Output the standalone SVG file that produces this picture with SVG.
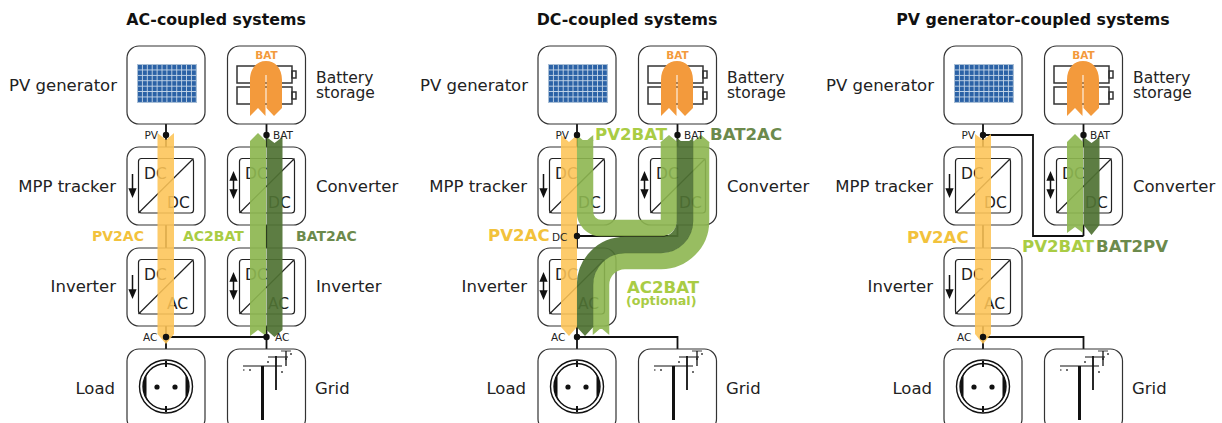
<svg xmlns="http://www.w3.org/2000/svg" width="1222" height="423" viewBox="0 0 1222 423">
<style>
text{font-family:"DejaVu Sans",Verdana,sans-serif;fill:#222}
.title{font-size:15.800px;font-weight:700;fill:#111;text-anchor:middle}
.lab{font-size:16.500px}
.sto{font-size:15.500px}
.e{text-anchor:end}
.conv{font-size:15.500px}
.port{font-size:10.500px}
.box{fill:#fff;stroke:#333;stroke-width:1.2}
.in{fill:none;stroke:#222;stroke-width:1.2}
.wire{fill:none;stroke:#111;stroke-width:1.8}
.y{fill:#fdc456;opacity:.88}
.l{fill:#8db650;opacity:.92}
.d{fill:#4f7233;opacity:.92}
.sl{fill:none;stroke:#8db650;stroke-width:16.5}
.sd{fill:none;stroke:#4f7233;stroke-width:16.5}
.t1{font-size:14px;font-weight:700}
.t2{font-size:16.600px;font-weight:700}
.cy{fill:#f2c23c}.cl{fill:#a9cc44}.cd{fill:#6c8a4c}
.oo{fill:#f39a3c}
.bl{font-size:10.500px;font-weight:700;text-anchor:middle;fill:#f39a3c}
.bt{fill:none;stroke:#333;stroke-width:1.5}
</style>
<defs>
<pattern id="cells" width="4.9" height="5.4" patternUnits="userSpaceOnUse" x="138" y="65">
<rect width="4.9" height="5.4" fill="#c5d6e8"/><rect width="4" height="4.5" fill="#2b62a6"/>
</pattern>
<g id="pv"><rect x="137" y="64" width="60" height="39" fill="#a9bfd6"/><rect x="138" y="65" width="58" height="37" fill="url(#cells)"/></g>
<g id="bat">
<rect class="bt" x="237" y="66" width="55" height="17"/><rect class="bt" x="292" y="71" width="4" height="7"/>
<rect class="bt" x="237" y="87" width="55" height="17"/><rect class="bt" x="292" y="92" width="4" height="7"/>
<path class="oo" d="M250 116V80C250 68 257 61 266 61C275 61 282 68 282 80V108L274 116L266.500 108V75H265.500V116L258 108Z"/>
</g>
<g id="conv"><rect class="in" x="138.500" y="158.500" width="55" height="54.500" rx="3"/><path class="in" d="M138.500 213L193.500 158.500"/></g>
<path id="down" d="M132.500 174V191M129.500 189L132.500 196L135.500 189Z" fill="#111" stroke="#111" stroke-width="1.500"/>
<path id="both" d="M132.500 178V192M129.500 180L132.500 173L135.500 180ZM129.500 190L132.500 197L135.500 190Z" fill="#111" stroke="#111" stroke-width="1.500"/>
<g id="socket">
<circle cx="166" cy="386.500" r="26.500" fill="none" stroke="#111" stroke-width="1.400"/>
<circle cx="166" cy="386.500" r="23" fill="none" stroke="#111" stroke-width="1.400"/>
<path d="M150 370A23 23 0 0 0 150 403L146.500 397V376Z M182 370A23 23 0 0 1 182 403L185.500 397V376Z" fill="#111"/>
<path d="M166 361V367M166 406V412" stroke="#111" stroke-width="2"/>
<circle cx="157" cy="387" r="2.600" fill="#111"/><circle cx="175" cy="387" r="2.600" fill="#111"/>
</g>
<g id="grid" stroke="#111" fill="none">
<path d="M262.500 366V420" stroke-width="3"/><path d="M243 366H282" stroke-width="1.200"/>
<path d="M276 356V390" stroke-width="1.800"/><path d="M268 357H288" stroke-width="1"/>
<path d="M286 351V366" stroke-width="1.300"/><path d="M281 351H291" stroke-width=".8"/>
<path d="M243 370h1.500M250 369v2M282 371v2M268 361v2M286 358v2M291 353v2" stroke-width="1.200"/>
</g>
<circle id="dot" r="3.200" fill="#111"/>
</defs>

<g id="panel-ac">
<text class="title" x="216" y="25">AC-coupled systems</text>
<g id="connectors-ac">
<path class="wire" d="M166 124V147M266.500 124V147M166 224V248M266.500 224V248M166 326V349M266.500 326V349M166 337H266.500"/>
</g>
<g id="ac-pv"><rect class="box" x="127" y="46" width="78" height="78" rx="12"/><use href="#pv"/><text class="lab e" x="117" y="91">PV generator</text></g>
<g id="ac-bat"><rect class="box" x="227.500" y="46" width="78" height="78" rx="12"/><use href="#bat"/><text class="bl" x="266.500" y="59">BAT</text><text class="sto" x="316" y="83">Battery</text><text class="sto" x="316" y="98">storage</text></g>
<g id="ac-mpp"><rect class="box" x="127" y="147" width="78" height="78" rx="12"/><use href="#conv"/><use href="#down"/><text class="conv" x="144" y="179">DC</text><text class="conv" x="167" y="208">DC</text><text class="lab e" x="116" y="192">MPP tracker</text></g>
<g id="ac-conv"><rect class="box" x="227.500" y="147" width="78" height="78" rx="12"/><use href="#conv" x="101"/><use href="#both" x="101"/><text class="conv" x="245" y="179">DC</text><text class="conv" x="268" y="208">DC</text><text class="lab" x="316" y="192">Converter</text></g>
<g id="ac-inv1"><rect class="box" x="127" y="248" width="78" height="78" rx="12"/><use href="#conv" y="101"/><use href="#down" y="101"/><text class="conv" x="144" y="280">DC</text><text class="conv" x="167" y="309">AC</text><text class="lab e" x="116" y="292">Inverter</text></g>
<g id="ac-inv2"><rect class="box" x="227.500" y="248" width="78" height="78" rx="12"/><use href="#conv" x="101" y="101"/><use href="#both" x="101" y="101"/><text class="conv" x="245" y="280">DC</text><text class="conv" x="268" y="309">AC</text><text class="lab" x="316" y="292">Inverter</text></g>
<g id="ac-load"><rect class="box" x="127" y="349" width="78" height="82" rx="12"/><use href="#socket"/><text class="lab e" x="115" y="394">Load</text></g>
<g id="ac-grid"><rect class="box" x="227.500" y="349" width="78" height="82" rx="12"/><use href="#grid"/><text class="lab" x="315" y="394">Grid</text></g>
<g id="flows-ac">
<path class="y" d="M157.500 133L166 140L174 133V334L166 344L157.500 334Z"/>
<path class="l" d="M250 336V141L258 133L266 141V336L258 330Z"/>
<path class="d" d="M266.500 137L274.500 143L282.500 137V330L274.500 337L266.500 330Z"/>
</g>
<g id="dots-ac"><use href="#dot" x="166" y="135"/><use href="#dot" x="266.500" y="135"/><use href="#dot" x="166" y="337"/><use href="#dot" x="266.500" y="337"/>
<text class="port" x="144.500" y="139">PV</text><text class="port" x="273" y="139">BAT</text><text class="port" x="143" y="341">AC</text><text class="port" x="275" y="341">AC</text></g>
<text class="t1 cy" x="92" y="241">PV2AC</text><text class="t1 cl" x="183" y="241">AC2BAT</text><text class="t1 cd" x="296" y="241">BAT2AC</text>
</g>

<g id="panel-dc" transform="translate(411 0)">
<text class="title" x="216" y="25">DC-coupled systems</text>
<g id="connectors-dc">
<path class="wire" d="M166 124V349M266.500 124V236H166M166 337H266.500V349"/>
</g>
<g id="dc-pv"><rect class="box" x="127" y="46" width="78" height="78" rx="12"/><use href="#pv"/><text class="lab e" x="117" y="91">PV generator</text></g>
<g id="dc-bat"><rect class="box" x="227.500" y="46" width="78" height="78" rx="12"/><use href="#bat"/><text class="bl" x="266.500" y="59">BAT</text><text class="sto" x="316" y="83">Battery</text><text class="sto" x="316" y="98">storage</text></g>
<g id="dc-mpp"><rect class="box" x="127" y="147" width="78" height="78" rx="12"/><use href="#conv"/><use href="#down"/><text class="conv" x="144" y="179">DC</text><text class="conv" x="167" y="208">DC</text><text class="lab e" x="116" y="192">MPP tracker</text></g>
<g id="dc-conv"><rect class="box" x="227.500" y="147" width="78" height="78" rx="12"/><use href="#conv" x="101"/><use href="#both" x="101"/><text class="conv" x="245" y="179">DC</text><text class="conv" x="268" y="208">DC</text><text class="lab" x="316" y="192">Converter</text></g>
<g id="dc-inv"><rect class="box" x="127" y="248" width="78" height="78" rx="12"/><use href="#conv" y="101"/><use href="#both" y="101"/><text class="conv" x="144" y="280">DC</text><text class="conv" x="167" y="309">AC</text><text class="lab e" x="116" y="292">Inverter</text></g>
<g id="dc-load"><rect class="box" x="127" y="349" width="78" height="82" rx="12"/><use href="#socket"/><text class="lab e" x="115" y="394">Load</text></g>
<g id="dc-grid"><rect class="box" x="227.500" y="349" width="78" height="82" rx="12"/><use href="#grid"/><text class="lab" x="315" y="394">Grid</text></g>
<g id="flows-dc">
<g opacity=".9"><path class="sl" d="M174 140V212A16 16 0 0 0 190 228H250A8 8 0 0 0 258 220V142"/><path style="fill:#8db650" d="M165.750 135L174 142L182.250 135V141H165.750ZM249.750 142L258 135L266.250 142V143H249.750Z"/></g>
<g opacity=".9"><path class="sl" d="M190 329V285A24 24 0 0 1 214 261H250A40 40 0 0 0 290 221V142"/><path style="fill:#8db650" d="M181.750 335L190 328L198.250 335V329H181.750ZM281.750 142L290 135L298.250 142V143H281.750Z"/></g>
<g opacity=".92"><path class="sd" d="M274 141V221A24 24 0 0 1 250 245H214A40 40 0 0 0 174 285V327"/><path style="fill:#4f7233" d="M265.750 138L274 144L282.250 138V142H265.750ZM165.750 327L174 336L182.250 327V326H165.750Z"/></g>
<path class="y" d="M150 135L158 142L166 135V327L158 336L150 327Z"/>
</g>
<g id="dots-dc"><use href="#dot" x="166" y="135"/><use href="#dot" x="266.500" y="135"/><use href="#dot" x="166" y="236"/><use href="#dot" x="166" y="337"/>
<text class="port" x="144.500" y="139">PV</text><text class="port" x="273" y="139">BAT</text><text class="port" x="141" y="241">DC</text><text class="port" x="140" y="341">AC</text></g>
<text class="t2 cy" x="77" y="241">PV2AC</text><text class="t2 cl" x="184" y="140">PV2BAT</text><text class="t2 cd" x="299" y="140">BAT2AC</text>
<text class="t2 cl" x="216" y="292.500">AC2BAT</text><text class="cl" x="215" y="305" font-size="12.700" font-weight="700">(optional)</text>
</g>

<g id="panel-pv" transform="translate(817 0)">
<text class="title" x="216" y="25">PV generator-coupled systems</text>
<g id="connectors-pv">
<path class="wire" d="M166 124V147M166 135H216V236H266.500M266.500 124V236M166 224V248M166 326V349M166 337H266.500V349"/>
</g>
<g id="pv-pv"><rect class="box" x="127" y="46" width="78" height="78" rx="12"/><use href="#pv"/><text class="lab e" x="117" y="91">PV generator</text></g>
<g id="pv-bat"><rect class="box" x="227.500" y="46" width="78" height="78" rx="12"/><use href="#bat"/><text class="bl" x="266.500" y="59">BAT</text><text class="sto" x="316" y="83">Battery</text><text class="sto" x="316" y="98">storage</text></g>
<g id="pv-mpp"><rect class="box" x="127" y="147" width="78" height="78" rx="12"/><use href="#conv"/><use href="#down"/><text class="conv" x="144" y="179">DC</text><text class="conv" x="167" y="208">DC</text><text class="lab e" x="116" y="192">MPP tracker</text></g>
<g id="pv-conv"><rect class="box" x="227.500" y="147" width="78" height="78" rx="12"/><use href="#conv" x="101"/><use href="#both" x="101"/><text class="conv" x="245" y="179">DC</text><text class="conv" x="268" y="208">DC</text><text class="lab" x="316" y="192">Converter</text></g>
<g id="pv-inv"><rect class="box" x="127" y="248" width="78" height="78" rx="12"/><use href="#conv" y="101"/><use href="#down" y="101"/><text class="conv" x="144" y="280">DC</text><text class="conv" x="167" y="309">AC</text><text class="lab e" x="116" y="292">Inverter</text></g>
<g id="pv-load"><rect class="box" x="127" y="349" width="78" height="82" rx="12"/><use href="#socket"/><text class="lab e" x="115" y="394">Load</text></g>
<g id="pv-grid"><rect class="box" x="227.500" y="349" width="78" height="82" rx="12"/><use href="#grid"/><text class="lab" x="315" y="394">Grid</text></g>
<g id="flows-pv">
<path class="y" d="M158 134L166 140L174 134V334L166 344L158 334Z"/>
<path class="l" d="M250 233V142L258 134L266 142V233L258 227Z"/>
<path class="d" d="M266.500 137L274.500 143L282.500 137V225L274.500 235L266.500 225Z"/>
</g>
<g id="dots-pv"><use href="#dot" x="166" y="135"/><use href="#dot" x="266.500" y="135"/><use href="#dot" x="166" y="337"/>
<text class="port" x="144.500" y="139">PV</text><text class="port" x="273" y="139">BAT</text><text class="port" x="140" y="341">AC</text></g>
<text class="t2 cy" x="90" y="243">PV2AC</text><text class="t2 cl" x="205" y="252">PV2BAT</text><text class="t2 cd" x="279" y="252">BAT2PV</text>
</g>
</svg>
